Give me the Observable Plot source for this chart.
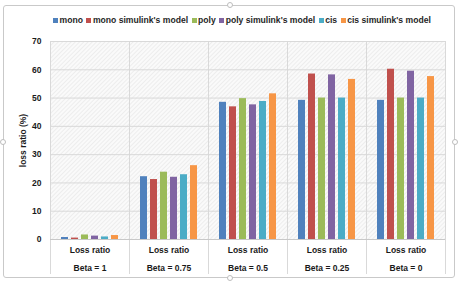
<!DOCTYPE html>
<html>
<head>
<meta charset="utf-8">
<script src="https://cdn.jsdelivr.net/npm/d3@7"></script>
<script src="https://cdn.jsdelivr.net/npm/@observablehq/plot@0.6"></script>
<style>
  html, body { margin: 0; padding: 0; background: #fff; }
  #wrap { position: relative; width: 460px; height: 284px; overflow: hidden; font-family: "Liberation Sans", Arial, sans-serif; }
  #box { position: absolute; left: 3px; top: 5px; width: 452px; height: 273px; border: 1px solid #c9c9c9; border-radius: 3px; box-sizing: border-box; }
  .handle { position: absolute; width: 6px; height: 6px; border: 1px solid #bdbdbd; border-radius: 50%; background: #fff; box-sizing: border-box; }
  #legend { position: absolute; left: 53px; top: 15px; display: flex; align-items: center; font-weight: bold; font-size: 8.6px; letter-spacing: 0px; color: #262626; white-space: nowrap; }
  #legend .item { display: flex; align-items: center; margin-right: 3.5px; flex: none; }
  #legend .sw { width: 5px; height: 5px; margin-right: 1.5px; }
  #chart { position: absolute; left: 0; top: 0; }
</style>
</head>
<body>
<svg width="0" height="0" style="position:absolute">
  <defs>
    <pattern id="hatch" width="3" height="3" patternUnits="userSpaceOnUse" patternTransform="rotate(45)">
      <rect width="3" height="3" fill="#fafafa"></rect>
      <line x1="0" y1="0" x2="0" y2="3" stroke="#e1e1e1" stroke-width="1"></line>
    </pattern>
  </defs>
</svg>
<div id="wrap">
  <div id="box"></div>
  <div class="handle" style="left:227px;top:2px"></div>
  <div class="handle" style="left:227px;top:275px"></div>
  <div class="handle" style="left:0px;top:139px"></div>
  <div class="handle" style="left:452px;top:139px"></div>
  <div id="chart"></div>
  <div id="legend"></div>
</div>
<script>
const categories = ["Beta = 1", "Beta = 0.75", "Beta = 0.5", "Beta = 0.25", "Beta = 0"];
const seriesNames = ["mono", "mono simulink's model", "poly", "poly simulink's model", "cis", "cis simulink's model"];
const seriesColors = ["#4F81BD", "#C0504D", "#9BBB59", "#8064A2", "#4BACC6", "#F79646"];
const mono = [0.7, 22.2, 48.5, 49.2, 49.2];
const monoSim = [0.5, 21.2, 46.9, 58.5, 60.2];
const poly = [1.6, 23.8, 49.8, 50.0, 50.0];
const polySim = [1.2, 22.0, 47.6, 58.2, 59.5];
const cis = [0.9, 22.9, 48.8, 50.0, 50.0];
const cisSim = [1.4, 26.1, 51.5, 56.6, 57.6];
const yTicks = [0, 10, 20, 30, 40, 50, 60, 70];
const rowLabel = "Loss ratio";
const yLabel = "loss ratio (%)";

const seriesValues = [mono, monoSim, poly, polySim, cis, cisSim];
const data = [];
categories.forEach((c, i) => {
  seriesNames.forEach((s, j) => {
    data.push({category: c, series: s, value: seriesValues[j][i]});
  });
});

// legend
const legend = d3.select("#legend");
seriesNames.forEach((s, j) => {
  const it = legend.append("div").attr("class", "item");
  it.append("div").attr("class", "sw").style("background", seriesColors[j]);
  it.append("span").text(s);
});

const chart = Plot.plot({
  width: 460,
  height: 284,
  marginTop: 41,
  marginBottom: 45,
  marginLeft: 49,
  marginRight: 14,
  style: {fontFamily: "'Liberation Sans', Arial, sans-serif", fontSize: "8.5px", fontWeight: "bold", color: "#1a1a1a", background: "transparent"},
  fx: {domain: categories, paddingInner: 0, paddingOuter: 0, axis: null, label: null},
  x: {domain: seriesNames, paddingInner: 0.27, paddingOuter: 0.9, axis: null, label: null},
  y: {domain: [0, 70], axis: null},
  color: {domain: seriesNames, range: seriesColors},
  marks: [
    Plot.frame({fill: "url(#hatch)", stroke: null}),
    Plot.gridY(yTicks, {stroke: "#d9d9d9", strokeOpacity: 1, strokeWidth: 1}),
    Plot.frame({anchor: "left", stroke: "#d9d9d9", insetBottom: -34}),
    Plot.frame({anchor: "right", stroke: "#d9d9d9", insetBottom: -34}),
    Plot.barY(data, {fx: "category", x: "series", y: "value", fill: "series"}),
    Plot.ruleY([0], {stroke: "#c8c8c8"}),
    Plot.axisY({ticks: yTicks, tickSize: 0, tickPadding: 9, label: yLabel, labelAnchor: "center", labelArrow: "none", labelOffset: 31}),
    Plot.text(categories, {fx: d => d, text: () => rowLabel, frameAnchor: "bottom", dy: 13}),
    Plot.text(categories, {fx: d => d, text: d => d, frameAnchor: "bottom", dy: 31})
  ]
});
document.getElementById("chart").appendChild(chart);
</script>
</body>
</html>
